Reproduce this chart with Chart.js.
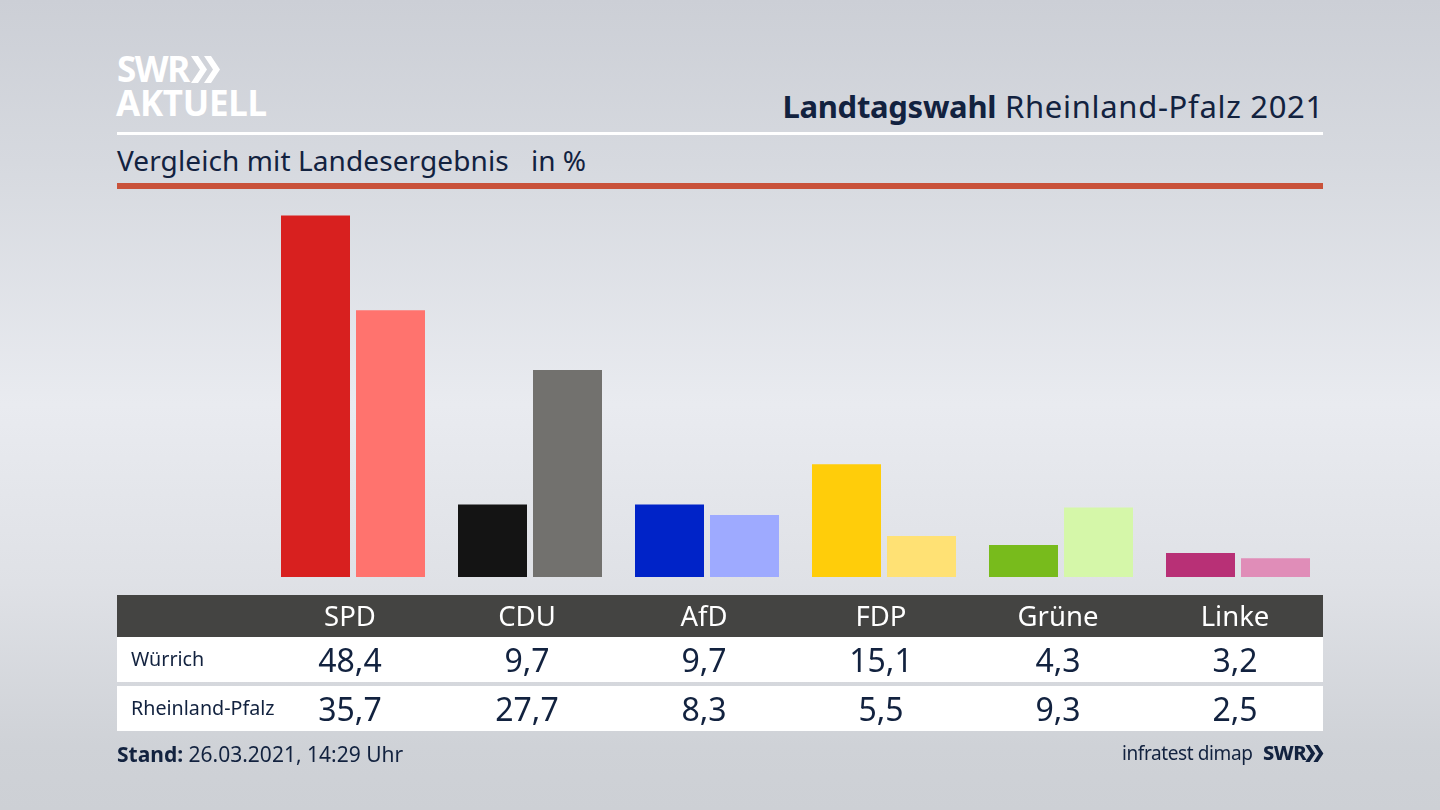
<!DOCTYPE html>
<html lang="de">
<head>
<meta charset="utf-8">
<title>Landtagswahl Rheinland-Pfalz 2021</title>
<script src="https://cdn.jsdelivr.net/npm/chart.js@4"></script>
<style>
  html, body { margin: 0; padding: 0; }
  body {
    position: relative; width: 1440px; height: 810px; overflow: hidden;
    font-family: "Noto Sans", sans-serif; color: #12223f;
    background: linear-gradient(180deg, #cccfd6 0%, #d6d9df 20%, #e9ebf0 50%, #dfe1e6 72%, #cfd2d7 92%, #cdd0d5 100%);
  }
  .abs { position: absolute; white-space: nowrap; }
  canvas { position: absolute; left: 0; top: 0; }
  .bar { position: absolute; left: 117px; width: 1206px; }
  .cell { position: absolute; transform: translateX(-50%); white-space: nowrap; }
</style>
</head>
<body>
<div class="abs" style="left:117px;top:49px;font-size:35px;font-weight:700;line-height:40px;color:#fff;letter-spacing:-1.5px">SWR</div>
<svg class="abs" style="left:189px;top:56px" width="32" height="27" viewBox="0 0 32 27">
  <path d="M2 0h7l9 13.5L9 27H2l9-13.5zM15 0h7l9 13.5L22 27h-7l9-13.5z" fill="#fff"/>
</svg>
<div class="abs" style="left:116px;top:83px;font-size:35px;font-weight:700;line-height:40px;color:#fff;letter-spacing:-0.3px">AKTUELL</div>

<div class="abs" style="right:116px;top:85px;font-size:31px;line-height:42px;letter-spacing:0.7px"><b style="letter-spacing:-0.3px">Landtagswahl</b> Rheinland-Pfalz 2021</div>
<div class="bar" style="top:132px;height:3px;background:#fff"></div>
<div class="abs" style="left:117px;top:141px;font-size:28px;line-height:38px;letter-spacing:0.1px">Vergleich mit Landesergebnis</div>
<div class="abs" style="left:531px;top:141px;font-size:28px;line-height:38px">in %</div>
<div class="bar" style="top:183px;height:6px;background:#c9523a"></div>

<canvas id="resultChart" width="1440" height="810"></canvas>

<div class="bar" style="top:595px;height:42px;background:#444442"></div>
<div class="bar" style="top:637px;height:45px;background:#fff"></div>
<div class="bar" style="top:686px;height:45px;background:#fff"></div>
<div id="table"></div>

<div class="abs" style="left:117px;top:739px;font-size:21px;line-height:30px"><b>Stand:</b> 26.03.2021, 14:29 Uhr</div>
<div class="abs" style="left:1122px;top:738px;font-size:19px;line-height:30px;letter-spacing:-0.4px">infratest dimap</div>
<div class="abs" style="left:1263px;top:739px;font-size:20px;font-weight:800;line-height:28px;letter-spacing:-0.5px">SWR</div>
<svg class="abs" style="left:1304px;top:745px" width="20" height="17" viewBox="0 0 32 27">
  <path d="M2 0h7l9 13.5L9 27H2l9-13.5zM15 0h7l9 13.5L22 27h-7l9-13.5z" fill="#12223f"/>
</svg>

<script>
const parties = ['SPD', 'CDU', 'AfD', 'FDP', 'Grüne', 'Linke'];
const wurrich = [48.4, 9.7, 9.7, 15.1, 4.3, 3.2];
const rheinlandPfalz = [35.7, 27.7, 8.3, 5.5, 9.3, 2.5];
const wurrichColors = ['#d8201f', '#141414', '#0023c8', '#ffcd0a', '#78bb1c', '#b83076'];
const landColors = ['#ff736e', '#72716e', '#9eaaff', '#ffe174', '#d5f7a9', '#e08db8'];

const fmt = v => v.toFixed(1).replace('.', ',');

const chart = new Chart(document.getElementById('resultChart'), {
    type: 'bar',
    data: {
        labels: parties,
        datasets: [
            { label: 'Würrich', data: wurrich, backgroundColor: wurrichColors, borderWidth: 0 },
            { label: 'Rheinland-Pfalz', data: rheinlandPfalz, backgroundColor: landColors, borderWidth: 0 }
        ]
    },
    options: {
        responsive: false, animation: false,
        categoryPercentage: 150 / 177, barPercentage: 0.92,
        layout: { padding: { left: 264.5, right: 113.5, top: 203.5, bottom: 233 } },
        scales: {
            x: { display: false },
            y: { display: false, min: 0, max: 50 }
        },
        plugins: { legend: { display: false }, tooltip: { enabled: false } }
    }
});

// table columns sit a little left of the bar groups, as in the original
const table = document.getElementById('table');
function addCell(text, left, top, size, color) {
    const d = document.createElement('div');
    d.className = 'cell';
    d.textContent = text;
    d.style.cssText = `left:${left}px;top:${top}px;font-size:${size}px;line-height:40px;color:${color}`;
    table.appendChild(d);
}
function addRowLabel(text, top) {
    const d = document.createElement('div');
    d.className = 'abs';
    d.textContent = text;
    d.style.cssText = `left:131px;top:${top}px;font-size:19.7px;line-height:40px`;
    table.appendChild(d);
}
const xScale = chart.scales.x;
addRowLabel('Würrich', 639);
addRowLabel('Rheinland-Pfalz', 688);
parties.forEach((p, i) => {
    const x = xScale.getPixelForValue(i) - 3;
    addCell(p, x, 596, 27.5, '#fff');
    addCell(fmt(wurrich[i]), x, 640, 32, '#12223f');
    addCell(fmt(rheinlandPfalz[i]), x, 689, 32, '#12223f');
});
</script>
</body>
</html>
